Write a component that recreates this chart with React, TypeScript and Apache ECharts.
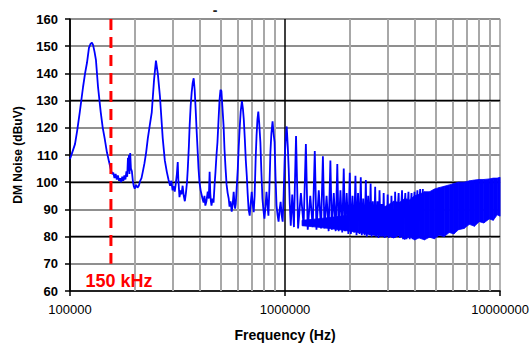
import React, { useEffect, useRef } from "react";
import * as echarts from "echarts";

// Measured DM noise spectrum (frequency in kHz, level in dBuV)
const freqKHz = [
  100, 102, 105.5, 108, 111, 115, 117.5, 120, 122.5, 124.5, 126.5, 128, 130, 132, 135, 139, 142, 145, 148.5, 152,
  155, 157, 159, 161, 163, 165, 167, 169, 171, 173, 175, 177, 179, 181, 183, 184.5, 186, 187, 188, 189,
  190.5, 192, 194, 196, 198, 200, 203, 206, 209, 212, 215, 218, 222, 226, 230, 235, 240, 246, 251, 256,
  262, 270, 276, 282, 287, 292, 296, 300, 304, 307, 311, 314, 317, 319, 323, 327, 330, 334, 338, 342,
  346, 350, 353, 357, 360, 364, 368, 372, 376, 380, 384, 388, 392, 396, 400, 405, 409, 413, 418, 422,
  426, 431, 437, 442, 446, 449, 452, 455, 460, 465, 470, 475, 480, 485, 490, 496, 501, 506, 511, 518,
  523, 529, 535, 541, 547, 552, 558, 565, 571, 577, 582, 586, 590, 596, 603, 609, 616, 622, 630, 637,
  643, 650, 657, 664, 670, 677, 685, 692, 700, 707, 715, 722, 730, 737, 744, 751, 758, 768, 776, 785,
  793, 802, 811, 820, 828, 837, 846, 855, 864, 875, 884, 894, 903, 913, 923, 933, 944, 954, 964, 975,
  985, 996, 1007, 1018, 1030, 1040, 1052, 1063, 1080, 1100, 1112, 1125, 1150, 1185, 1220, 1250, 1275, 1310, 1345, 1375,
  1400, 1435, 1470, 1500, 1525, 1560, 1595, 1625, 1650, 1685, 1720, 1750, 1775, 1810, 1845, 1875, 1900, 1935, 1970, 2000,
  2025, 2060, 2095, 2125, 2150, 2185, 2220, 2250, 2275, 2310, 2345, 2375, 2400, 2435, 2470, 2500, 2525, 2560, 2595, 2625,
  2650, 2690, 2720, 2750, 2785, 2815, 2845, 2875, 2905, 2940, 2970, 3000, 3035, 3065, 3095, 3125, 3160, 3200, 3230, 3250,
  3290, 3340, 3375, 3420, 3460, 3500, 3540, 3580, 3625, 3670, 3710, 3750, 3800, 3840, 3875, 3920, 3960, 4000, 4050, 4090,
  4125, 4170, 4210, 4250, 4300, 4375,
];
const noiseDb = [
  108.5, 110.5, 114, 119, 125.7, 135, 140, 144, 149.4, 150.8, 151.3, 150.5, 148, 145, 135, 125.7, 120, 116, 111, 107.4,
  104.5, 103, 103.5, 101.5, 103, 101, 102.5, 100.5, 101.5, 100, 102, 100.5, 102.5, 101, 104, 102, 109, 104, 110, 103,
  110.7, 105, 104, 100.5, 98.5, 97.6, 99, 98, 98.7, 100.5, 101.5, 103.8, 107, 111, 116, 121, 125.7, 137.7, 144.7, 140,
  131.5, 116, 108, 103.8, 101, 98.7, 100.5, 97, 98.5, 96.5, 100, 103, 107.4, 101, 94.5, 97, 95.5, 98.7, 95, 93,
  96, 100, 105, 113, 120.6, 128, 133, 136.5, 138.2, 134, 126.8, 119, 112, 105, 100, 97, 95.5, 94, 92.5, 95,
  91.4, 93, 96.5, 94, 103.8, 96, 93, 91.4, 94, 92.5, 98.7, 104, 110, 114.7, 122, 130.4, 134, 133.5, 128, 120.6,
  112, 105, 99, 96, 94, 91, 93, 89.2, 92, 96.5, 92, 90.3, 92, 98, 105, 113, 120.6, 126, 129.8, 127,
  123, 116, 108, 102.3, 96, 90, 87.7, 92, 96.5, 92, 89, 95, 108.5, 117, 123, 126, 122, 114.7, 104, 94,
  90, 86.6, 91, 96.5, 92, 87.7, 98, 111, 118, 122.4, 118, 114.7, 102, 91.4, 88, 85.5, 90, 92.8, 88, 85.5,
  95, 108.5, 116, 120.5, 113, 105, 92, 84, 95.5, 83.5, 100, 117, 83, 96, 84, 114, 82.5, 95, 83.5, 111.5,
  82.5, 97, 83, 109.5, 83, 95, 82, 108, 82.5, 96, 82, 106.7, 82, 97, 81.5, 105, 82, 96, 81, 103.5,
  81, 95, 81.5, 102.4, 80.5, 96, 81, 101.8, 80.5, 94, 80.5, 100.8, 80, 95, 80.5, 99.5, 80, 93, 80.5, 98.3,
  80, 93, 79.5, 97, 80, 92, 80, 96, 79.5, 91, 80, 95.5, 79.5, 90, 80, 95, 79.5, 90, 79.5, 96.5,
  80, 90, 96, 79.5, 89, 97, 79, 89, 96, 79, 90, 96.5, 79, 91, 96, 79, 90, 96.5, 79, 91,
  97, 79.5, 92, 97.5, 79.5, 97.5,
];

// Dense high-frequency band (1.2 MHz – 10 MHz): lower and upper envelope
const bandFreqKHz = [1200, 1400, 1600, 1800, 2000, 2200, 2400, 2600, 2800, 3000, 3200, 3400, 3600, 3800, 4000, 4200, 4450, 4700, 4950, 5200, 5500, 5800, 6100, 6400, 6800, 7200, 7600, 8000, 8400, 8900, 9300, 9700, 10000];
const bandLowDb = [84, 83.5, 83, 82.5, 82, 81.5, 81, 80.5, 80.5, 80.5, 79.5, 80.5, 79, 80, 78.8, 79.5, 78.8, 79.8, 79.2, 80.5, 80, 81.5, 81, 82.5, 83, 84.5, 83.8, 85.5, 85, 86.5, 86, 88, 87.5];
const bandHighDb = [86, 86.5, 87, 87.5, 88, 88.5, 89, 89.5, 90.5, 91.5, 93, 92.5, 94, 93.5, 95, 95.5, 96.5, 96.5, 97.5, 98, 98.5, 99, 99.5, 100, 100, 100.5, 100.8, 101, 101, 101.2, 101.5, 101.5, 101.8];

// Axis ranges and grid
const xMin = 100000;
const xMax = 10000000;
const yMin = 60;
const yMax = 160;
const yStep = 10;
const minorGridFreqs = [200000, 300000, 400000, 500000, 600000, 700000, 800000, 900000, 2000000, 3000000, 4000000, 5000000, 6000000, 7000000, 8000000, 9000000];
const darkGridDb = [80, 100, 130];

// 150 kHz limit marker
const limitFreq = 155000;
const limitTop = 160;
const limitBottom = 70;
const limitLabel = "150 kHz";

const FONT = "'Liberation Sans', Arial, sans-serif";
const BLUE = "#0000ff";

export default function App() {
  const ref = useRef<HTMLDivElement>(null);
  useEffect(() => {
    if (!ref.current) return;
    const chart = echarts.init(ref.current, null, { renderer: "svg" });
    const lineData = freqKHz.map((f, i) => [f * 1000, noiseDb[i]]);
    const bandSegments = bandFreqKHz.slice(0, -1).map((f, i) => [
      f * 1000,
      bandLowDb[i],
      bandHighDb[i],
      bandFreqKHz[i + 1] * 1000,
      bandLowDb[i + 1],
      bandHighDb[i + 1],
    ]);

    chart.setOption({
      animation: false,
      backgroundColor: "#ffffff",
      grid: { left: 70, right: 31, top: 19, bottom: 53 },
      xAxis: {
        type: "log",
        logBase: 10,
        min: xMin,
        max: xMax,
        name: "Frequency (Hz)",
        nameLocation: "middle",
        nameGap: 37,
        nameTextStyle: { color: "#000", fontSize: 14, fontWeight: "bold", fontFamily: FONT },
        axisLine: { show: true, onZero: false, lineStyle: { color: "#000", width: 1.5 } },
        axisTick: { show: true, length: 5, lineStyle: { color: "#000", width: 1.5 } },
        axisLabel: {
          color: "#000",
          fontSize: 13,
          fontFamily: FONT,
          margin: 12,
          formatter: (v: number) => String(Math.round(v)),
        },
        splitLine: { show: true, lineStyle: { color: ["#000", "#000", "#9a9a9a"], width: 1.5 } },
      },
      yAxis: {
        type: "value",
        min: yMin,
        max: yMax,
        interval: yStep,
        name: "DM Noise (dBuV)",
        nameLocation: "middle",
        nameGap: 46,
        nameRotate: 90,
        nameTextStyle: { color: "#000", fontSize: 12, fontWeight: "bold", fontFamily: FONT },
        axisLine: { show: true, lineStyle: { color: "#000", width: 1.5 } },
        axisTick: { show: true, length: 5, lineStyle: { color: "#000", width: 1.5 } },
        axisLabel: { color: "#000", fontSize: 13, fontWeight: "bold", fontFamily: FONT, margin: 12 },
        splitLine: { show: true, lineStyle: { color: "#8f8f8f", width: 2 } },
      },
      series: [
        {
          type: "line",
          name: "grid",
          data: [[xMin, yMin]],
          symbol: "none",
          silent: true,
          lineStyle: { opacity: 0 },
          z: 1,
          markLine: {
            silent: true,
            z: 1,
            symbol: ["none", "none"],
            label: { show: false },
            emphasis: { disabled: true },
            data: [
              ...minorGridFreqs.map((f) => ({ xAxis: f, lineStyle: { color: "#a8a8a8", width: 2, type: "solid" } })),
              ...darkGridDb.map((v) => ({ yAxis: v, lineStyle: { color: "#000", width: 1.3, type: "solid" } })),
            ],
          },
        },
        {
          type: "custom",
          name: "band",
          data: bandSegments,
          encode: { x: [0, 3], y: [1, 2, 4, 5] },
          silent: true,
          z: 2,
          renderItem: (_params: any, api: any) => {
            const a = api.coord([api.value(0), api.value(1)]);
            const b = api.coord([api.value(3), api.value(4)]);
            const c = api.coord([api.value(3), api.value(5)]);
            const d = api.coord([api.value(0), api.value(2)]);
            return {
              type: "polygon",
              shape: { points: [a, b, c, d] },
              style: { fill: BLUE, stroke: BLUE, lineWidth: 0.8 },
            };
          },
        },
        {
          type: "line",
          name: "DM noise",
          data: lineData,
          symbol: "none",
          silent: true,
          lineStyle: { color: BLUE, width: 1.8 },
          z: 3,
        },
        {
          type: "line",
          name: "limit",
          data: [
            [limitFreq, limitTop],
            [limitFreq, limitBottom],
          ],
          symbol: "none",
          silent: true,
          lineStyle: { color: "#ff0000", width: 3, type: [11, 7] },
          z: 4,
        },
      ],
      graphic: [
        {
          type: "text",
          x: 119,
          y: 281,
          z: 10,
          style: {
            text: limitLabel,
            fill: "#ff0000",
            font: `bold 18px ${FONT}`,
            textAlign: "center",
            textVerticalAlign: "middle",
          },
        },
        {
          type: "text",
          x: 215,
          y: 10,
          z: 10,
          style: {
            text: "-",
            fill: "#222",
            font: `bold 14px ${FONT}`,
            textAlign: "center",
            textVerticalAlign: "middle",
          },
        },
      ],
    });
    return () => chart.dispose();
  }, []);
  return (
    <div
      ref={ref}
      style={{ position: "fixed", left: 0, top: 0, width: 532, height: 347, background: "#fff" }}
    />
  );
}
